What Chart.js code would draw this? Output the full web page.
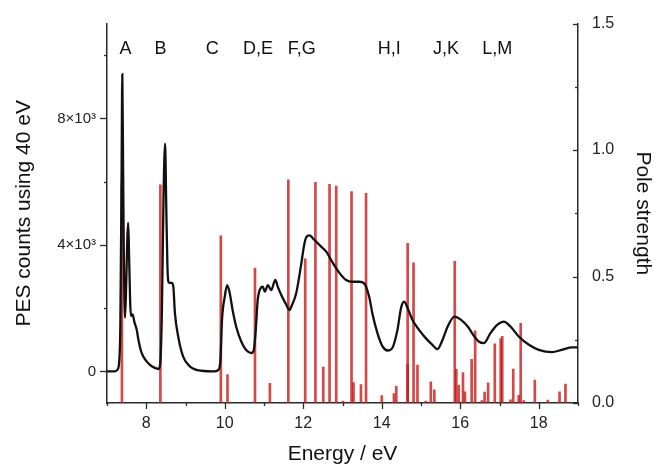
<!DOCTYPE html>
<html><head><meta charset="utf-8">
<script src="https://cdn.jsdelivr.net/npm/chart.js@4.4.1/dist/chart.umd.min.js"></script>
<style>html,body{margin:0;padding:0;background:#fff;}#wrap{width:656px;height:469px;position:relative;}</style>
</head><body><div id="wrap"><canvas id="c" width="656" height="469"></canvas></div>
<script>
// PES spectrum (black line), left axis
const energy = [7.00,7.20,7.27,7.31,7.34,7.37,7.39,7.41,7.43,7.46,7.49,7.52,7.54,7.56,7.59,7.61,7.64,7.66,7.70,7.76,7.80,7.88,8.01,8.14,8.31,
  8.36,8.40,8.44,8.48,8.51,8.54,8.58,8.65,8.69,8.73,8.82,8.94,9.11,9.41,9.75,9.84,9.89,9.93,10.00,10.06,10.12,10.20,10.29,10.42,10.54,10.68,
  10.74,10.79,10.84,10.89,10.97,11.02,11.10,11.18,11.29,11.35,11.44,11.57,11.65,11.69,11.82,11.95,12.03,12.08,12.16,12.25,12.42,12.59,12.76,
  12.93,13.09,13.26,13.43,13.55,13.68,13.76,13.89,14.02,14.15,14.27,14.40,14.49,14.57,14.66,14.78,14.95,15.12,15.29,15.42,15.55,15.68,15.85,
  16.02,16.19,16.36,16.47,16.60,16.77,16.94,17.11,17.28,17.49,17.75,18.00,18.34,18.59,18.85,19.00];
const counts = [0,0,60,300,1500,6000,9400,6500,3500,1700,2800,4300,4700,3800,2200,1750,1800,1780,1550,1300,1000,590,315,160,75,
  300,2000,5500,7200,5200,3300,2800,2800,2680,1850,1060,470,160,20,0,50,370,1630,2360,2730,2520,1940,1420,945,685,580,
  680,1310,2260,2570,2680,2520,2730,2570,2890,2680,2415,2100,1940,2030,2470,3410,4045,4250,4300,4200,3990,3780,3415,
  3100,2890,2835,2835,2785,2362,1840,1210,790,660,740,1313,2000,2205,2000,1630,1313,1052,840,705,1000,1418,1733,
  1630,1418,1103,945,893,1210,1470,1575,1418,1103,840,683,610,683,760,760];
// Calculated states (red sticks), right axis
const stickEnergy = [7.38,8.36,9.90,10.07,10.77,11.15,11.62,12.05,12.31,12.51,12.67,12.84,13.01,13.23,13.28,13.47,13.60,14.00,14.31,14.37,
  14.66,14.66,14.81,14.91,15.12,15.25,15.34,15.86,15.90,15.96,16.07,16.12,16.29,16.38,16.55,16.62,16.71,16.88,17.03,17.07,17.28,17.35,
  17.49,17.54,17.62,17.90,18.23,18.53,18.68];
const poleStrength = [0.87,0.863,0.661,0.112,0.533,0.078,0.882,0.57,0.872,0.142,0.865,0.858,0.008,0.836,0.081,0.073,0.829,0.029,0.037,0.066,
  0.631,0.153,0.554,0.15,0.008,0.084,0.052,0.56,0.133,0.07,0.12,0.044,0.173,0.285,0.01,0.043,0.08,0.234,0.255,0.264,0.013,0.134,
  0.03,0.315,0.01,0.091,0.012,0.044,0.075];
// Peak labels
const peakNames = ['A','B','C','D,E','F,G','H,I','J,K','L,M'];
const peakNameEnergy = [7.47,8.36,9.68,10.85,11.96,14.19,15.64,16.94];
// Tick values (all) and labelled tick values
const xTickValues = [7,8,9,10,11,12,13,14,15,16,17,18,19];
const xLabelled = [8,10,12,14,16,18];
const leftTickValues = [0,2000,4000,6000,8000,10000];
const leftLabelled = [0,4000,8000];
const rightTickValues = [0,0.25,0.5,0.75,1.0,1.25,1.5];
const rightLabelled = [0,0.5,1.0,1.5];

const FONT = "'Liberation Sans', Arial, sans-serif";
const AXIS = '#2a2a2a';

const decor = {
  id: 'decor',
  afterDraw(chart) {
    const ctx = chart.ctx;
    const {x, y, y2} = chart.scales;
    ctx.save();
    ctx.strokeStyle = AXIS; ctx.lineWidth = 1.3;
    x.ticks.forEach(t => {
      const px = Math.round(x.getPixelForValue(t.value)) + 0.5;
      const len = t.label !== '' ? 6 : 3;
      ctx.beginPath(); ctx.moveTo(px, x.top); ctx.lineTo(px, x.top + len); ctx.stroke();
    });
    y.ticks.forEach(t => {
      const py = Math.round(y.getPixelForValue(t.value)) + 0.5;
      const len = t.label !== '' ? 7 : 3;
      ctx.beginPath(); ctx.moveTo(y.right, py); ctx.lineTo(y.right - len, py); ctx.stroke();
    });
    y2.ticks.forEach(t => {
      const py = Math.round(y2.getPixelForValue(t.value)) + 0.5;
      const len = t.label !== '' ? 5 : 3;
      ctx.beginPath(); ctx.moveTo(y2.left, py); ctx.lineTo(y2.left - len, py); ctx.stroke();
    });
    ctx.fillStyle = '#111';
    ctx.font = '18px ' + FONT;
    ctx.textAlign = 'center';
    ctx.textBaseline = 'alphabetic';
    peakNames.forEach((n, i) => {
      ctx.fillText(n, x.getPixelForValue(peakNameEnergy[i]), y2.getPixelForValue(1.38));
    });
    ctx.restore();
  }
};

new Chart(document.getElementById('c'), {
  type: 'line',
  data: {
    datasets: [
      {
        type: 'line',
        label: 'PES',
        data: energy.map((e, i) => ({x: e, y: counts[i]})),
        yAxisID: 'y',
        borderColor: '#111',
        borderWidth: 2.3,
        pointRadius: 0,
        cubicInterpolationMode: 'monotone',
        fill: false,
        order: 1
      },
      {
        type: 'bar',
        label: 'Pole strength',
        data: stickEnergy.map((e, i) => ({x: e, y: poleStrength[i]})),
        yAxisID: 'y2',
        backgroundColor: 'rgba(200,20,20,0.78)',
        borderWidth: 0,
        barThickness: 2,
        order: 2
      }
    ]
  },
  options: {
    responsive: false,
    animation: false,
    devicePixelRatio: 1,
    layout: {padding: {top: 22, left: 0, right: 0, bottom: 0}},
    plugins: {legend: {display: false}, tooltip: {enabled: false}},
    scales: {
      x: {
        type: 'linear', min: 7, max: 19, offset: false,
        grid: {display: false, drawTicks: false, offset: false},
        border: {display: true, color: AXIS, width: 1.5},
        afterBuildTicks: s => { s.ticks = xTickValues.map(v => ({value: v})); },
        ticks: {padding: 11, color: '#222', font: {family: FONT, size: 16},
          maxRotation: 0, autoSkip: false,
          callback: v => xLabelled.includes(v) ? String(v) : ''},
        title: {display: true, text: 'Energy / eV', color: '#111', font: {family: FONT, size: 21}, padding: {top: 0, bottom: 2}},
        afterFit: s => { s.height = 66; }
      },
      y: {
        type: 'linear', position: 'left', min: -1000, max: 11000,
        grid: {display: false, drawTicks: false},
        border: {display: true, color: AXIS, width: 1.5},
        afterBuildTicks: s => { s.ticks = leftTickValues.map(v => ({value: v})); },
        ticks: {padding: 11, color: '#222', font: {family: FONT, size: 15}, autoSkip: false,
          callback: v => leftLabelled.includes(v) ? (v === 0 ? '0' : (v / 1000) + '×10³') : ''},
        title: {display: true, text: 'PES counts using 40 eV', color: '#111', font: {family: FONT, size: 21}, padding: {top: 12, bottom: 0}},
        afterFit: s => { s.width = 107; }
      },
      y2: {
        type: 'linear', position: 'right', min: 0, max: 1.5,
        grid: {display: false, drawTicks: false},
        border: {display: true, color: AXIS, width: 1.5},
        afterBuildTicks: s => { s.ticks = rightTickValues.map(v => ({value: v})); },
        ticks: {padding: 14, color: '#222', font: {family: FONT, size: 16}, autoSkip: false,
          callback: v => rightLabelled.some(r => Math.abs(r - v) < 1e-9) ? v.toFixed(1) : ''},
        title: {display: true, text: 'Pole strength', color: '#111', font: {family: FONT, size: 21}, padding: {top: 1, bottom: 0}},
        afterFit: s => { s.width = 78; }
      }
    }
  },
  plugins: [decor]
});
</script>
</body></html>
